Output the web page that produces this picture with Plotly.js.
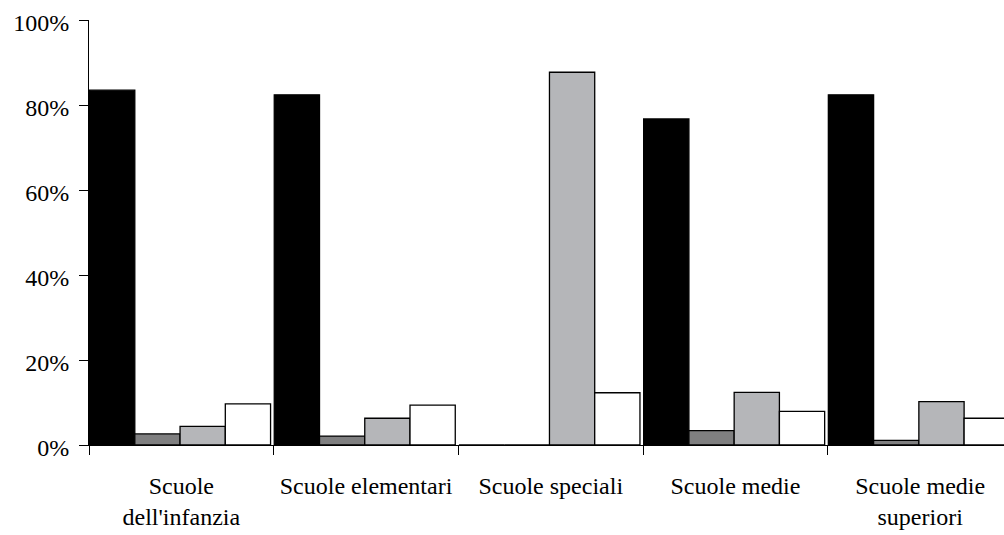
<!DOCTYPE html>
<html>
<head>
<meta charset="utf-8">
<script src="https://cdn.plot.ly/plotly-3.0.1.min.js"></script>
<style>
  html, body { margin: 0; padding: 0; background: #fff; overflow: hidden; }
  #chart { width: 1004px; height: 535px; }
</style>
</head>
<body>
<div id="chart"></div>
<script>
// Categories (x-axis tick labels)
const categories = [
  "Scuole<br>dell'infanzia",
  "Scuole elementari",
  "Scuole speciali",
  "Scuole medie",
  "Scuole medie<br>superiori"
];

// Series values (percent)
const seriesBlack     = [83.5, 82.4, 0,    76.7, 82.4];
const seriesDarkGray  = [2.6,  2.1,  0,    3.4,  1.1];
const seriesLightGray = [4.4,  6.3,  87.7, 12.4, 10.2];
const seriesWhite     = [9.7,  9.4,  12.3, 7.9,  6.3];

const yTickVals  = [0, 20, 40, 60, 80, 100];
const yTickTexts = ["0%", "20%", "40%", "60%", "80%", "100%"];

const FONT = 'Liberation Serif, Times New Roman, serif';

const barWidth = 0.245;
const start = -0.497;

function barTrace(values, color, idx) {
  return {
    type: 'bar',
    x: categories,
    y: values,
    width: barWidth,
    offset: start + idx * barWidth,
    marker: { color: color, line: { color: '#000000', width: 1.3 } },
    hoverinfo: 'skip',
    showlegend: false
  };
}

const data = [
  barTrace(seriesBlack, '#000000', 0),
  barTrace(seriesDarkGray, '#7f7f80', 1),
  barTrace(seriesLightGray, '#b5b6b9', 2),
  barTrace(seriesWhite, '#ffffff', 3)
];

const plotLeft = 89, plotRight = 1004, catPx = 184.7;
const xMax = -0.5 + (plotRight - plotLeft) / catPx;

const layout = {
  width: 1004,
  height: 535,
  margin: { l: plotLeft, r: 0, t: 20, b: 90, pad: 0 },
  paper_bgcolor: '#ffffff',
  plot_bgcolor: '#ffffff',
  barmode: 'overlay',
  showlegend: false,
  font: { family: FONT, size: 24, color: '#000000' },
  xaxis: {
    type: 'category',
    categoryorder: 'array',
    categoryarray: categories,
    range: [-0.5, xMax],
    autorange: false,
    tickson: 'boundaries',
    ticks: 'outside',
    ticklen: 9,
    tickwidth: 1,
    tickcolor: '#000000',
    showline: true,
    linecolor: '#000000',
    linewidth: 1,
    showgrid: false,
    zeroline: false,
    ticklabelstandoff: 19,
    tickfont: { family: FONT, size: 24, color: '#000000' },
    fixedrange: true
  },
  xaxis2: {
    type: 'linear',
    overlaying: 'x',
    anchor: 'y',
    side: 'bottom',
    range: [-0.5, xMax],
    autorange: false,
    tickmode: 'array',
    tickvals: [-0.5, 0.5, 1.5, 2.5, 3.5],
    ticks: 'inside',
    ticklen: 8,
    tickwidth: 1,
    tickcolor: '#000000',
    showticklabels: false,
    showline: false,
    showgrid: false,
    zeroline: false,
    fixedrange: true
  },
  yaxis: {
    range: [0, 100],
    autorange: false,
    tickmode: 'array',
    tickvals: yTickVals,
    ticktext: yTickTexts,
    ticks: 'outside',
    ticklen: 9,
    tickwidth: 1,
    tickcolor: '#000000',
    showline: true,
    linecolor: '#000000',
    linewidth: 1,
    showgrid: false,
    zeroline: false,
    ticklabelstandoff: 5,
    ticklabelshift: 3,
    tickfont: { family: FONT, size: 24, color: '#000000' },
    fixedrange: true
  }
};

Plotly.newPlot('chart', data, layout, { displayModeBar: false, staticPlot: true });
</script>
</body>
</html>
